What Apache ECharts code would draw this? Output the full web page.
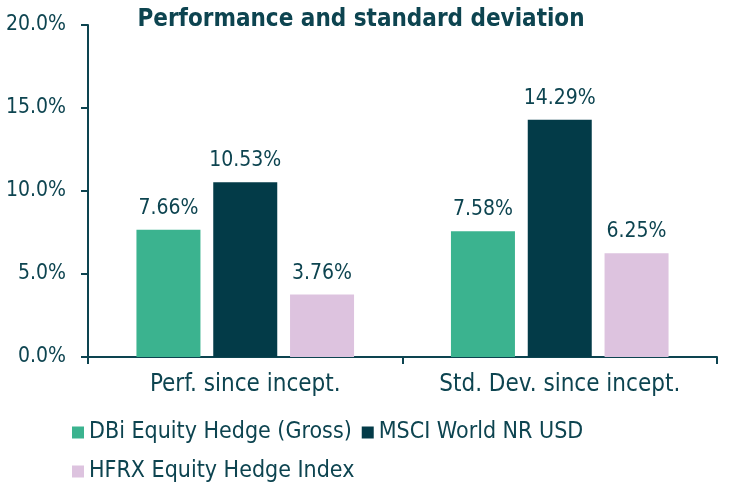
<!DOCTYPE html>
<html>
<head>
<meta charset="utf-8">
<script src="https://cdn.jsdelivr.net/npm/echarts@6/dist/echarts.min.js"></script>
<style>
  html, body { margin: 0; padding: 0; background: #fff; }
  #chart { width: 729px; height: 487px; }
</style>
</head>
<body>
<div id="chart"></div>
<script>
// data
var categories = ['Perf. since incept.', 'Std. Dev. since incept.'];
var seriesNames = ['DBi Equity Hedge (Gross)', 'MSCI World NR USD', 'HFRX Equity Hedge Index'];
var dbiValues = [7.66, 7.58];
var msciValues = [10.53, 14.29];
var hfrxValues = [3.76, 6.25];
var colors = ['#3BB38F', '#033B48', '#DDC3DF'];

var textColor = '#0D4450';
var font = 'DejaVu Sans Condensed';

var myChart = echarts.init(document.getElementById('chart'));

function makeSeries(name, data, color) {
    return {
        name: name,
        type: 'bar',
        data: data,
        barWidth: 64,
        barGap: '20%',
        itemStyle: { color: color },
        label: {
            show: true,
            position: 'top',
            distance: 11,
            color: textColor,
            fontFamily: font,
            fontSize: 21,
            formatter: function (p) { return p.value.toFixed(2) + '%'; }
        }
    };
}

var option = {
    backgroundColor: '#fff',
    animation: false,
    title: {
        text: 'Performance and standard deviation',
        left: 356,
        textAlign: 'center',
        top: 3,
        textStyle: {
            color: textColor,
            fontFamily: font,
            fontWeight: 'bold',
            fontSize: 24
        }
    },
    grid: {
        left: 88,
        right: 12,
        top: 25,
        bottom: 130
    },
    legend: {
        left: 72,
        top: 418,
        width: 620,
        padding: 0,
        itemWidth: 12,
        itemHeight: 12,
        itemGap: 10,
        icon: 'rect',
        textStyle: {
            color: textColor,
            fontFamily: font,
            fontSize: 23,
            lineHeight: 29
        },
        data: seriesNames
    },
    xAxis: {
        type: 'category',
        data: categories,
        axisLine: { lineStyle: { color: textColor, width: 2 } },
        axisTick: { show: true, length: 7, lineStyle: { color: textColor, width: 2 } },
        axisLabel: {
            color: textColor,
            fontFamily: font,
            fontSize: 24,
            margin: 16
        }
    },
    yAxis: {
        type: 'value',
        min: 0,
        max: 20,
        interval: 5,
        splitLine: { show: false },
        axisLine: { show: true, lineStyle: { color: textColor, width: 2 } },
        axisTick: { show: true, length: 7, lineStyle: { color: textColor, width: 2 } },
        axisLabel: {
            color: textColor,
            fontFamily: font,
            fontSize: 21,
            margin: 22,
            formatter: function (v) { return v.toFixed(1) + '%'; }
        }
    },
    series: [
        makeSeries(seriesNames[0], dbiValues, colors[0]),
        makeSeries(seriesNames[1], msciValues, colors[1]),
        makeSeries(seriesNames[2], hfrxValues, colors[2])
    ]
};

myChart.setOption(option);
</script>
</body>
</html>
